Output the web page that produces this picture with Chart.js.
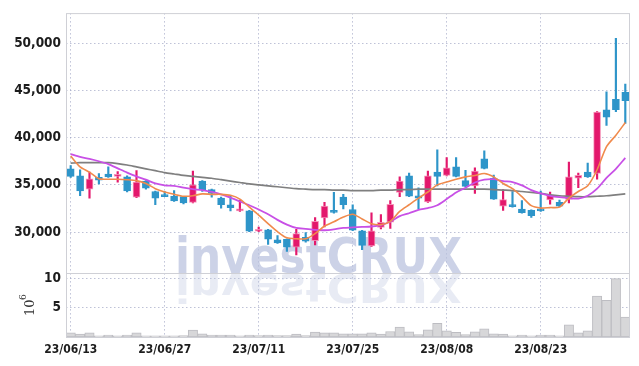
<!DOCTYPE html>
<html>
<head>
<meta charset="utf-8">
<script src="https://cdn.jsdelivr.net/npm/chart.js@4.4.0/dist/chart.umd.min.js"></script>
<style>
html, body { margin: 0; padding: 0; background: #fff; }
</style>
</head>
<body>
<canvas id="stockChart" width="639" height="366"></canvas>
<script>
const dates = ['23/06/13','23/06/14','23/06/15','23/06/16','23/06/19','23/06/20','23/06/21','23/06/22','23/06/23','23/06/26',
  '23/06/27','23/06/28','23/06/29','23/06/30','23/07/03','23/07/04','23/07/05','23/07/06','23/07/07','23/07/10',
  '23/07/11','23/07/12','23/07/13','23/07/14','23/07/17','23/07/18','23/07/19','23/07/20','23/07/21','23/07/24',
  '23/07/25','23/07/26','23/07/27','23/07/28','23/07/31','23/08/01','23/08/02','23/08/03','23/08/04','23/08/07',
  '23/08/08','23/08/09','23/08/10','23/08/11','23/08/14','23/08/16','23/08/17','23/08/18','23/08/21','23/08/22',
  '23/08/23','23/08/24','23/08/25','23/08/28','23/08/29','23/08/30','23/08/31','23/09/01','23/09/04','23/09/05']

const opens = [36700,35950,34550,35800,36150,35900,35850,33700,35400,34300,
  33850,33800,33750,33150,35400,34500,33600,32900,32250,32250,
  30100,30250,29200,29250,28400,29450,29100,31500,32300,33700,
  32400,30150,28550,30500,31050,34200,35950,33850,33200,36350,
  36000,36900,35450,34900,37750,35700,32750,32850,32450,32300,
  32350,33400,33150,33450,35700,36350,36200,42950,44050,44800]
const highs = [37050,36600,36350,36200,36900,36400,35950,36500,35450,34350,
  34300,34400,33800,36450,35450,34550,33700,33900,33400,32300,
  30550,30300,29650,29300,30300,29950,31550,33150,34200,34000,
  32900,30200,32050,31850,33350,35850,36250,34700,36450,38700,
  37900,37900,36550,36800,38600,36050,34500,34300,33350,32350,
  34350,34250,33400,37400,36250,37300,42750,44850,50500,45650]
const lows = [35800,33850,33600,35100,35800,35300,34250,33650,34550,32900,
  33750,33250,33000,33100,34300,33700,32550,32250,32200,30050,
  30050,28700,28800,27950,27600,28950,28650,30550,32000,32450,
  30150,28150,28500,30350,30400,33750,33750,32450,33150,34900,
  35950,35850,34800,34100,36700,33450,32300,32650,32000,31550,
  32200,32950,32700,33100,34700,35800,35600,41300,42750,41500]
const closes = [35900,34350,35650,35500,35850,36050,34350,35300,34650,33600,
  33750,33300,33100,35000,34500,34100,32900,32600,32450,30100,
  30250,29250,28850,28400,29850,29050,31150,32750,32100,32900,
  30200,28600,30150,31050,32950,35400,33800,33600,35950,35900,
  36800,35900,34850,36450,36750,33500,33450,32700,32050,31750,
  32250,33900,32750,35850,36000,35850,42700,42150,42950,43900]

const ma5 = [38050,36900,36350,35650,35600,35600,35550,35450,35150,34600,
  34250,34000,33800,33850,34050,34000,34000,33900,33500,32650,
  31800,30900,30050,29400,29300,29300,29850,30650,31100,31600,
  31900,31400,30900,30800,31150,32200,32900,33600,34250,35000,
  35300,35600,35850,36000,36200,35850,35150,34600,33750,32800,
  32550,32600,32650,33600,34300,34900,36600,39050,40250,41600]
const ma10 = [38250,37950,37750,37500,37200,36750,36300,35900,35550,35150,
  34950,34900,34700,34550,34450,34250,34000,33650,33250,32850,
  32400,31900,31300,30800,30450,30350,30250,30200,30300,30450,
  30500,30550,30600,30750,31100,31700,32000,32350,32550,32850,
  33500,34200,34700,35250,35550,35600,35400,35300,34950,34450,
  34100,33850,33700,33600,33550,33850,34600,35750,36700,37850]
const ma60 = [37300,37350,37350,37350,37350,37250,37100,36900,36700,36500,
  36300,36150,36000,35900,35800,35700,35550,35400,35250,35100,
  35000,34900,34800,34700,34600,34550,34500,34500,34450,34450,
  34400,34400,34400,34450,34450,34500,34500,34550,34550,34550,
  34550,34550,34550,34550,34550,34500,34450,34400,34300,34200,
  34100,33950,33850,33800,33750,33750,33800,33850,33950,34050]

// volume in millions
const volumes = [0.7,0.5,0.7,0.2,0.35,0.2,0.35,0.7,0.2,0.2,
  0.2,0.2,0.25,1.2,0.55,0.35,0.35,0.35,0.2,0.35,
  0.25,0.35,0.25,0.25,0.5,0.25,0.85,0.7,0.7,0.55,
  0.55,0.55,0.7,0.5,0.95,1.7,0.9,0.4,1.25,2.35,
  1.05,0.8,0.4,0.9,1.4,0.55,0.5,0.2,0.35,0.2,
  0.35,0.35,0.2,2.1,0.7,1.05,7.0,6.3,10.0,3.4]

const priceTicks = [30000, 35000, 40000, 45000, 50000]
const volTicks = [5, 10]

const UP = '#e3186c'
const DOWN = '#2e95c9'
const fontFamily = "'Liberation Sans Narrow','DejaVu Sans Condensed',sans-serif"
const gridColor = 'rgba(150,156,190,0.62)'
const gridDash = [1.5, 2.5]

let candleColor = opens.map((o, i) => closes[i] >= o ? UP : DOWN)
let bodyBorder = opens.map((o, i) => closes[i] >= o ? 'rgba(245,140,180,0.9)' : DOWN)

const framePlugin = {
  id: 'frame',
  beforeDatasetsDraw(chart) {
    const ctx = chart.ctx
    const area = chart.chartArea
    const base = chart.scales.y.bottom
    // watermark with its reflection
    ctx.save()
    ctx.beginPath()
    ctx.rect(area.left, area.top, area.right - area.left, area.bottom - area.top)
    ctx.clip()
    ctx.font = "bold 50px 'DejaVu Sans', sans-serif"
    let w = ctx.measureText('investCRUX').width
    let sx = 287 / w
    ctx.fillStyle = 'rgba(185,193,222,0.72)'
    ctx.save()
    ctx.translate(175, base)
    ctx.scale(sx, 0.98)
    ctx.fillText('investCRUX', 0, 0)
    ctx.restore()
    ctx.fillStyle = 'rgba(185,193,222,0.33)'
    ctx.save()
    ctx.translate(175, base + 1)
    ctx.scale(sx, -0.78)
    ctx.fillText('investCRUX', 0, 0)
    ctx.restore()
    ctx.restore()
  },
  afterDraw(chart) {
    const ctx = chart.ctx
    const area = chart.chartArea
    const vol = chart.scales.yVol
    ctx.save()
    ctx.strokeStyle = '#cfd0d6'
    ctx.lineWidth = 1
    ctx.strokeRect(area.left + 0.5, area.top + 0.5, area.right - area.left - 1, area.bottom - area.top)
    ctx.beginPath()
    ctx.moveTo(area.left, Math.round(vol.top) + 0.5)
    ctx.lineTo(area.right, Math.round(vol.top) + 0.5)
    ctx.stroke()
    // 10^6 unit label
    ctx.fillStyle = '#333'
    ctx.translate(34, (vol.top + vol.bottom) / 2 + 3)
    ctx.rotate(-Math.PI / 2)
    ctx.font = "13px 'DejaVu Serif', serif"
    ctx.fillText('10', -8, 0)
    ctx.font = "9px 'DejaVu Serif', serif"
    ctx.fillText('6', 8, -8)
    ctx.restore()
  }
}

var ctx = document.getElementById('stockChart').getContext('2d')
var myChart = new Chart(ctx, {
  type: 'bar',
  data: {
    labels: dates,
    datasets: [
      { type: 'line', data: ma5, borderColor: '#f08a4c', borderWidth: 1.6, pointRadius: 0, tension: 0.25, yAxisID: 'y', order: 1 },
      { type: 'line', data: ma10, borderColor: '#c850e6', borderWidth: 1.8, pointRadius: 0, tension: 0.25, yAxisID: 'y', order: 1 },
      { type: 'line', data: ma60, borderColor: '#7f7f7f', borderWidth: 1.7, pointRadius: 0, tension: 0.25, yAxisID: 'y', order: 1 },
      {
        data: lows.map((l, i) => [l, highs[i]]),
        backgroundColor: candleColor, barThickness: 1.5, grouped: false, yAxisID: 'y', order: 3
      },
      {
        data: opens.map((o, i) => [o, closes[i]]),
        backgroundColor: candleColor, borderColor: bodyBorder, borderWidth: 1, borderSkipped: false,
        barThickness: 7, minBarLength: 2, grouped: false, yAxisID: 'y', order: 2
      },
      {
        data: volumes,
        backgroundColor: '#d7d7d9', borderColor: '#bdbdc2', borderWidth: 1, borderSkipped: false,
        barPercentage: 1, categoryPercentage: 1, grouped: false, yAxisID: 'yVol', order: 2
      }
    ]
  },
  options: {
    responsive: false,
    animation: false,
    layout: { padding: { top: 9, right: 9, left: 0, bottom: 0 } },
    plugins: { legend: { display: false }, tooltip: { enabled: false } },
    scales: {
      x: {
        offset: true,
        grid: { offset: false, color: gridColor, drawTicks: false },
        border: { display: false, dash: gridDash },
        ticks: {
          autoSkip: false, maxRotation: 0, padding: 6, color: '#1c1c1c',
          font: { family: fontFamily, size: 12, weight: 'bold' },
          callback: function (v, i) { return i % 10 === 0 ? dates[i] : null }
        },
        afterFit: function (s) { s.height = 29 }
      },
      yVol: {
        stack: 'main', stackWeight: 65, min: 0, max: 11,
        grid: { color: gridColor, drawTicks: false },
        border: { display: false, dash: gridDash },
        ticks: { padding: 5, color: '#1c1c1c', font: { family: fontFamily, size: 13.5, weight: 'bold' } },
        afterBuildTicks: function (s) { s.ticks = volTicks.map(v => ({ value: v })) },
        afterFit: function (s) { s.width = 66 }
      },
      y: {
        stack: 'main', stackWeight: 263, min: 25700, max: 53170,
        grid: { color: gridColor, drawTicks: false },
        border: { display: false, dash: gridDash },
        ticks: {
          padding: 5, color: '#1c1c1c', font: { family: fontFamily, size: 13.5, weight: 'bold' },
          callback: v => v.toLocaleString('en-US')
        },
        afterBuildTicks: function (s) { s.ticks = priceTicks.map(v => ({ value: v })) },
        afterFit: function (s) { s.width = 66 }
      }
    }
  },
  plugins: [framePlugin]
})
</script>
</body>
</html>
